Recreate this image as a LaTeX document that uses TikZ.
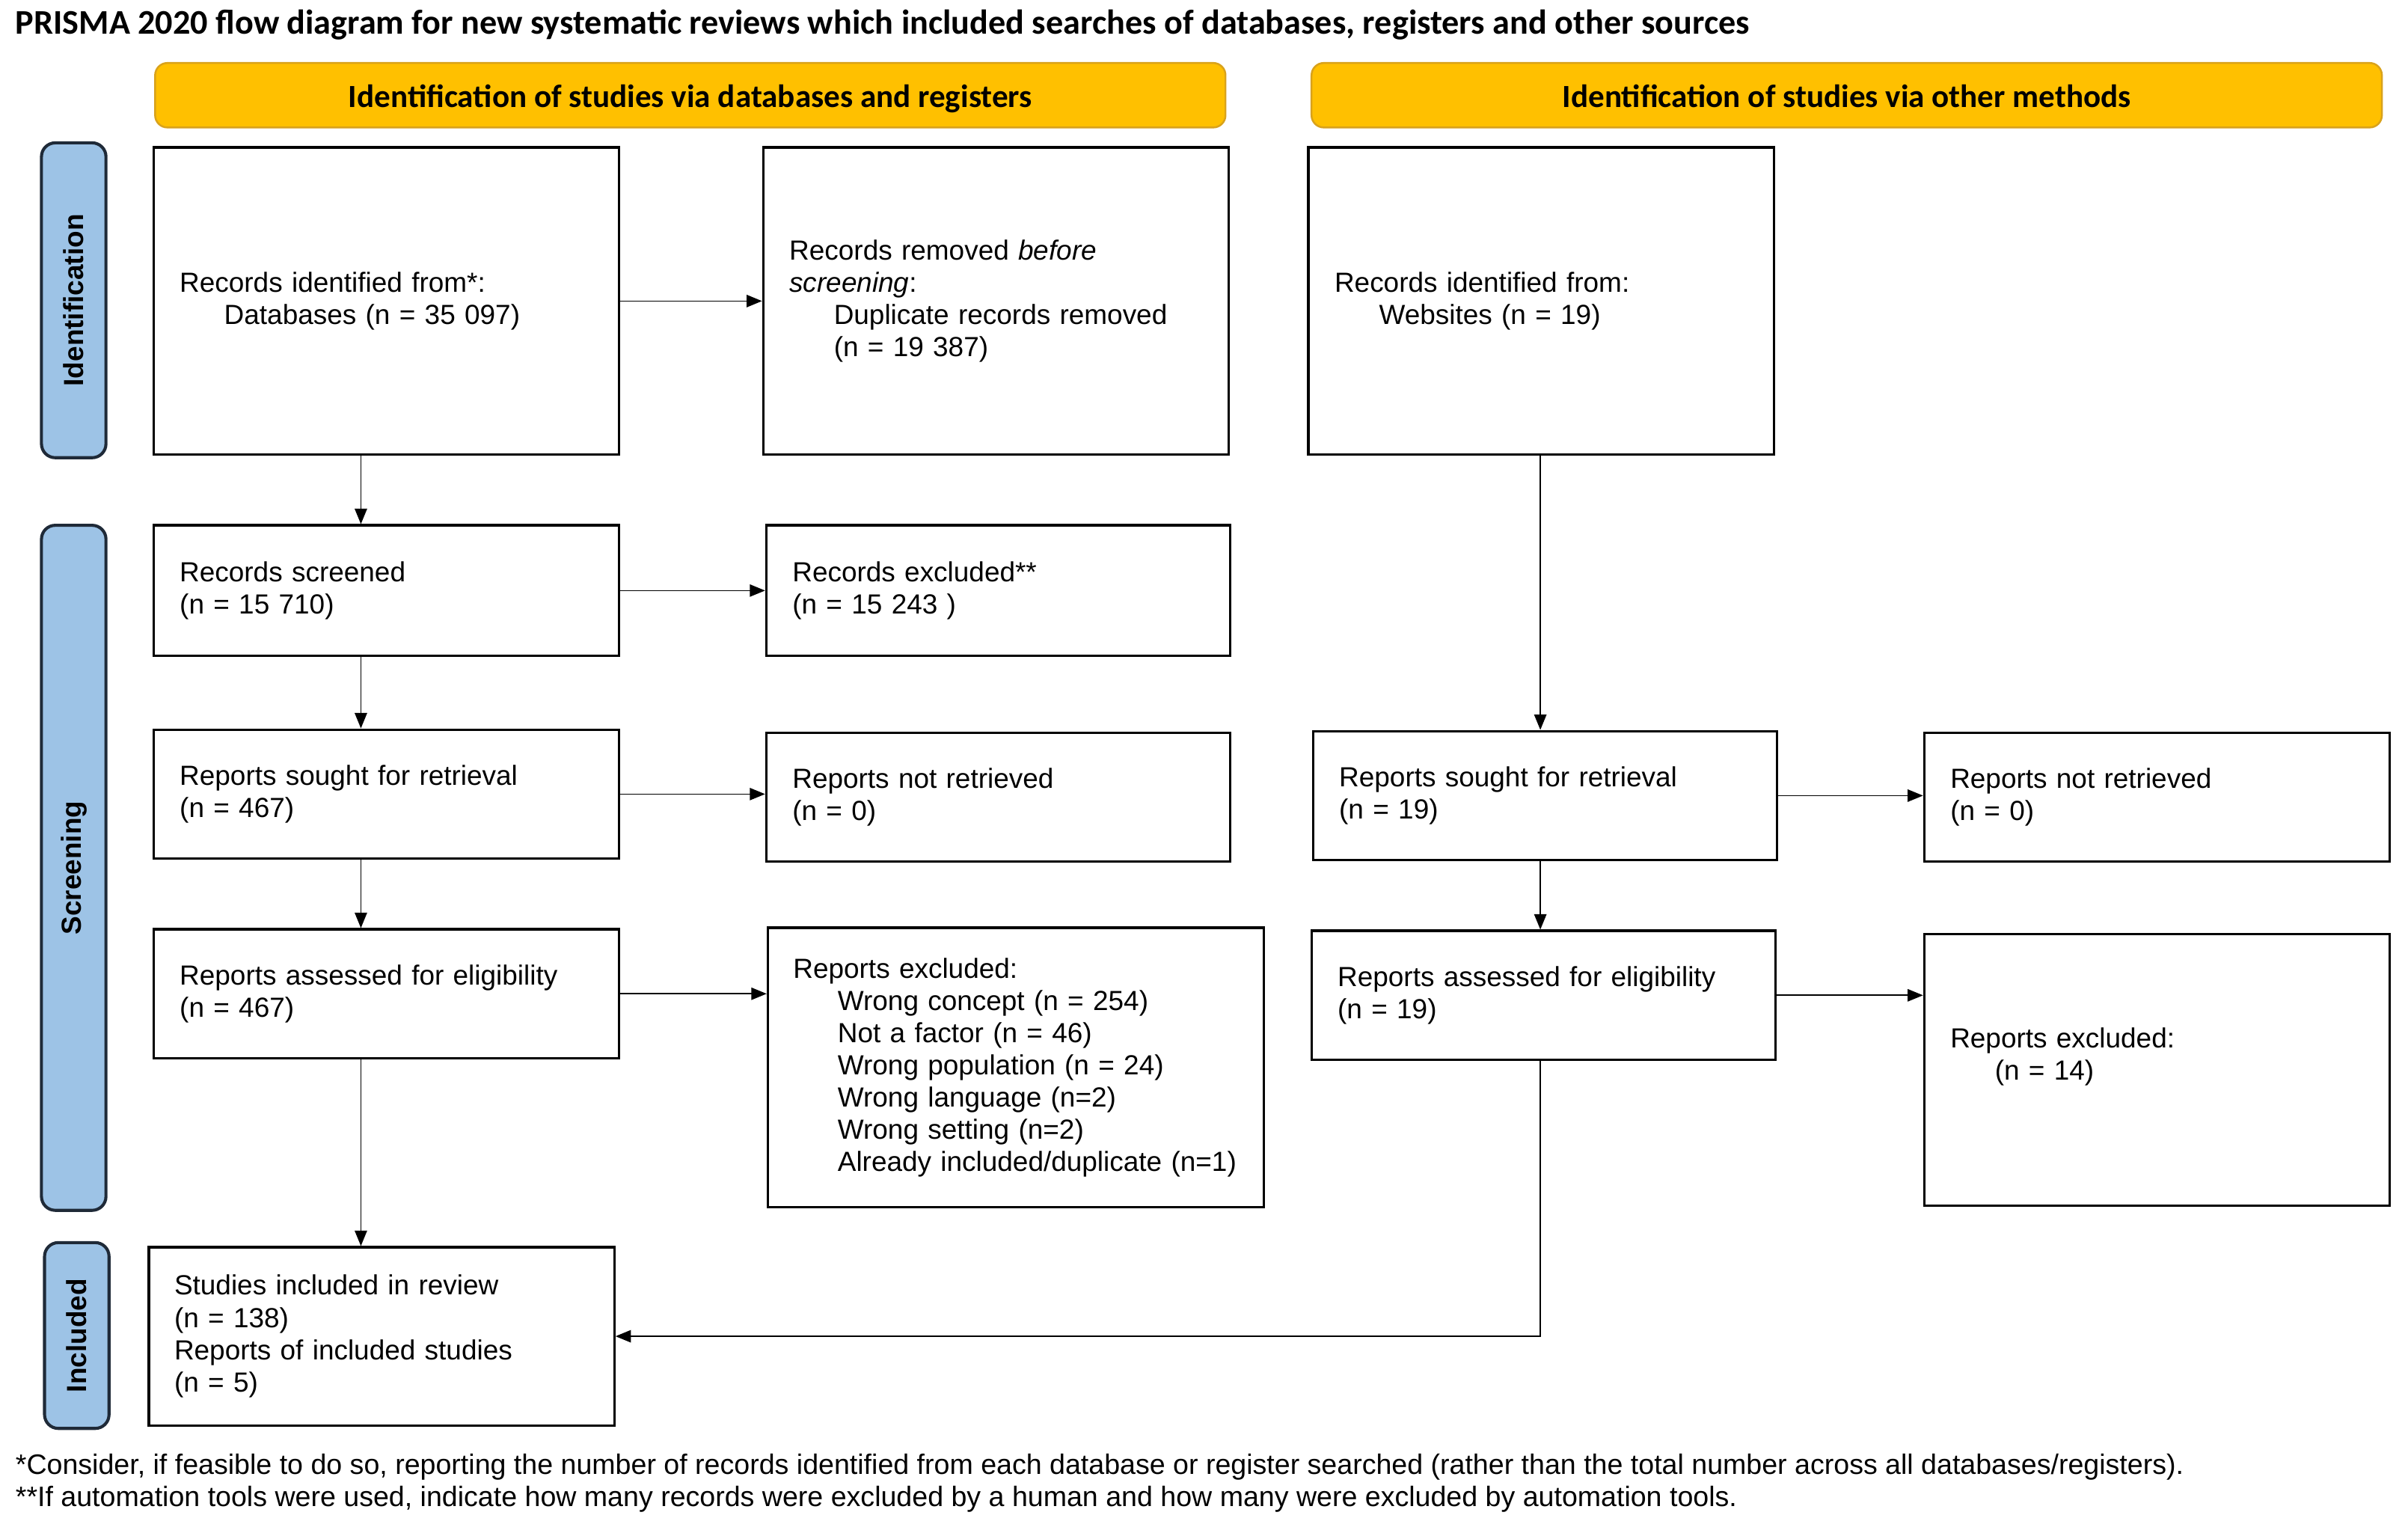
\documentclass[tikz,border=0pt]{standalone}
\usepackage{fontspec}
\setmainfont{Liberation Sans}
\newfontfamily\calib{Carlito}
\usetikzlibrary{arrows.meta,calc}
\definecolor{gold}{HTML}{FFC000}
\definecolor{goldedge}{HTML}{D9A21B}
\definecolor{sideblue}{HTML}{9DC3E6}
\definecolor{sideedge}{HTML}{1F2A38}
\begin{document}
\begin{tikzpicture}[x=1pt,y=-1pt,
 box/.style={draw=black,line width=1.6pt,fill=white,inner sep=0pt,align=left,font=\fontsize{18}{21}\selectfont},
 banner/.style={draw=goldedge,fill=gold,rounded corners=8pt,line width=1.2pt,inner sep=0pt,text height=17pt,text depth=1.5pt,font=\calib\bfseries\fontsize{21}{24}\selectfont},
 side/.style={draw=sideedge,fill=sideblue,rounded corners=9pt,line width=2pt,inner sep=0pt},
 sidelabel/.style={rotate=90,inner sep=0pt,font=\bfseries\fontsize{18}{21}\selectfont},
 arr/.style={-{Triangle[length=10pt,width=8pt]},line width=0.8pt},
 note/.style={anchor=west,inner sep=0pt,font=\fontsize{18.3}{21}\selectfont}]
\useasboundingbox (0,0) rectangle (1568,997.6);
\def\ind{\hspace*{29pt}}
% title
\node[anchor=west,inner sep=0pt,font=\calib\bfseries\fontsize{22.5}{25}\selectfont] (title) at (10,16)
  {PRISMA 2020 flow diagram for new systematic reviews which included searches of databases, registers and other sources};
% banners
\node[banner,minimum width=697pt,minimum height=42pt] (hdL) at (449.5,62) {Identification of studies via databases and registers};
\node[banner,minimum width=697pt,minimum height=42pt] (hdR) at (1202.5,62) {Identification of studies via other methods};
% side bars
\node[side,minimum width=42pt,minimum height=205pt] (sIdent) at (48,195.5) {};
\node[sidelabel] (lIdent) at (sIdent.center) {Identification};
\node[side,minimum width=42pt,minimum height=446pt] (sScreen) at (48,565) {};
\node[sidelabel] (lScreen) at (sScreen.center) {Screening};
\node[side,minimum width=42pt,minimum height=121pt] (sIncl) at (50,869.5) {};
\node[sidelabel] (lIncl) at (sIncl.center) {Included};
% boxes
\node[box,minimum width=303pt,minimum height=200pt,text width=269pt] (b1) at (251.5,196)
  {Records identified from*:\\ \ind Databases (n = 35 097)};
\node[box,minimum width=303pt,minimum height=200pt,text width=269pt] (b2) at (648.5,196)
  {Records removed \textit{before}\\ \textit{screening}:\\ \ind Duplicate records removed\\ \ind (n = 19 387)};
\node[box,minimum width=303pt,minimum height=200pt,text width=269pt] (b3) at (1003.5,196)
  {Records identified from:\\ \ind Websites (n = 19)};
\node[box,minimum width=303pt,minimum height=85pt,text width=269pt] (b4) at (251.5,384.5)
  {Records screened\\ (n = 15 710)};
\node[box,minimum width=302pt,minimum height=85pt,text width=268pt] (b5) at (650,384.5)
  {Records excluded**\\ (n = 15 243 )};
\node[box,minimum width=303pt,minimum height=84pt,text width=269pt] (b6) at (251.5,517)
  {Reports sought for retrieval\\ (n = 467)};
\node[box,minimum width=302pt,minimum height=84pt,text width=268pt] (b7) at (650,519)
  {Reports not retrieved\\ (n = 0)};
\node[box,minimum width=302pt,minimum height=84pt,text width=268pt] (b8) at (1006,518)
  {Reports sought for retrieval\\ (n = 19)};
\node[box,minimum width=303pt,minimum height=84pt,text width=269pt] (b9) at (1404.5,519)
  {Reports not retrieved\\ (n = 0)};
\node[box,minimum width=303pt,minimum height=84pt,text width=269pt] (b10) at (251.5,647)
  {Reports assessed for eligibility\\ (n = 467)};
\node[box,minimum width=323pt,minimum height=182pt,text width=290pt] (b11) at (661.5,695)
  {Reports excluded:\\ \ind Wrong concept (n = 254)\\ \ind Not a factor (n = 46)\\ \ind Wrong population (n = 24)\\ \ind Wrong language (n=2)\\ \ind Wrong setting (n=2)\\ \ind Already included/duplicate (n=1)};
\node[box,minimum width=302pt,minimum height=84pt,text width=268pt] (b12) at (1005,648)
  {Reports assessed for eligibility\\ (n = 19)};
\node[box,minimum width=303pt,minimum height=177pt,text width=269pt] (b13) at (1404.5,696.5)
  {Reports excluded:\\ \ind (n = 14)\\ \mbox{}};
\node[box,minimum width=303pt,minimum height=116pt,text width=270pt] (b14) at (248.5,870)
  {Studies included in review\\ (n = 138)\\ Reports of included studies\\ (n = 5)};
% column coordinates
\coordinate (colL) at (235,0);
\coordinate (colR) at (1003,0);
% arrows
\draw[arr] (b1.south -| colL) -- (b4.north -| colL);
\draw[arr] (b4.south -| colL) -- (b6.north -| colL);
\draw[arr] (b6.south -| colL) -- (b10.north -| colL);
\draw[arr] (b10.south -| colL) -- (b14.north -| colL);
\draw[arr] (b1.east) -- (b1.east -| b2.west);
\draw[arr] (b4.east) -- (b4.east -| b5.west);
\draw[arr] (b6.east) -- (b6.east -| b7.west);
\draw[arr] (b10.east) -- (b10.east -| b11.west);
\draw[arr] (b3.south -| colR) -- (b8.north -| colR);
\draw[arr] (b8.south -| colR) -- (b12.north -| colR);
\draw[arr] (b8.east) -- (b8.east -| b9.west);
\draw[arr] (b12.east) -- (b12.east -| b13.west);
\draw[arr] (b12.south -| colR) |- (b14.east);
% footnotes
\node[note] (fn1) at (10,955) {*Consider, if feasible to do so, reporting the number of records identified from each database or register searched (rather than the total number across all databases/registers).};
\node[note] (fn2) at (10,976) {**If automation tools were used, indicate how many records were excluded by a human and how many were excluded by automation tools.};
\end{tikzpicture}
\end{document}
